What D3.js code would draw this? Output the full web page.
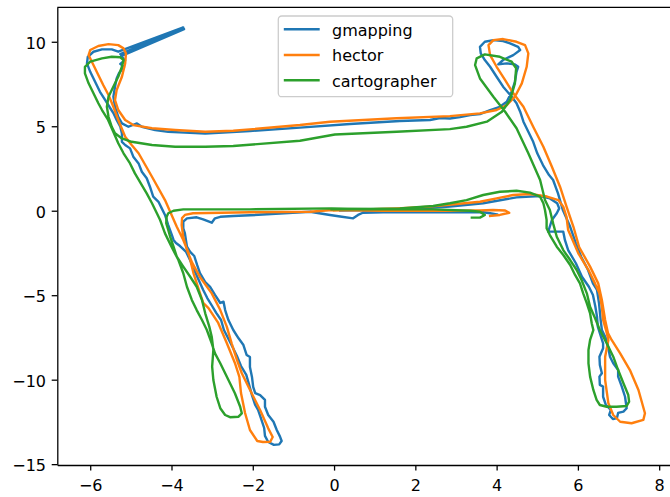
<!DOCTYPE html>
<html><head><meta charset="utf-8">
<script src="https://cdn.jsdelivr.net/npm/d3@7"></script>
<style>body{margin:0;background:#fff}svg{display:block;background:#fff}</style>
</head><body><svg id="c" width="670" height="497"></svg>
<script>
const seriesNames = ["gmapping", "hector", "cartographer"];
const seriesColors = ["#1f77b4", "#ff7f0e", "#2ca02c"];
const xTicks = [-6, -4, -2, 0, 2, 4, 6, 8];
const yTicks = [-15, -10, -5, 0, 5, 10];

const gmappingX = [4.01,3.84,3.67,1.21,0.71,0.59,0.47,0.15,-0.10,-0.59,-2.07,-2.48,-2.80,-2.93,-3.01,-3.22,-3.38,-3.62,-3.71,-3.71,-3.67,-3.62,-3.54,-3.44,-3.37,-3.30,-3.17,-3.05,-2.93,-2.80,-2.72,-2.68,-2.60,-2.48,-2.35,-2.23,-2.15,-2.07,-2.07,-2.02,-1.99,-1.94,-1.82,-1.70,-1.70,-1.62,-1.49,-1.41,-1.33,-1.29,-1.35,-1.48,-1.62,-1.70,-1.72,-1.80,-1.87,-1.94,-2.02,-2.09,-2.16,-2.29,-2.39,-2.51,-2.61,-2.71,-2.78,-2.90,-3.00,-3.12,-3.22,-3.32,-3.42,-3.52,-3.64,-3.79,-3.89,-3.95,-3.99,-4.08,-4.16,-4.24,-4.32,-4.45,-4.53,-4.61,-4.73,-4.81,-4.94,-5.02,-5.14,-5.22,-5.22,-5.26,-5.35,-5.43,-5.51,-5.63,-5.76,-5.88,-6.00,-6.08,-6.06,-5.92,-5.71,-5.47,-5.31,-3.71,-5.26,-3.69,-5.24,-5.14,-5.26,-5.17,-5.29,-5.35,-5.39,-5.43,-5.39,-5.31,-5.22,-5.06,-4.85,-4.73,-4.40,-4.08,-3.67,-3.17,-2.07,-0.84,0.39,1.62,2.36,2.61,2.85,3.10,3.35,3.59,3.84,4.08,4.25,4.37,4.45,4.49,4.53,4.45,4.25,4.04,4.16,4.41,4.58,4.53,4.33,4.16,3.92,3.71,3.59,3.61,3.71,3.84,4.00,4.16,4.37,4.49,4.58,4.66,4.78,4.90,5.00,5.14,5.29,5.39,5.51,5.63,5.81,5.95,6.08,6.25,6.37,6.47,6.52,6.56,6.59,6.71,6.79,6.87,6.99,6.99,7.08,7.16,7.20,7.12,6.99,6.96,6.86,6.77,6.81,6.69,6.62,6.62,6.54,6.53,6.59,6.54,6.53,6.62,6.62,6.54,6.49,6.47,6.43,6.37,6.27,6.10,5.95,5.76,5.68,5.64,5.27,5.36,5.48,5.54,5.49,5.31,5.07,4.49,3.67,2.85,2.12,1.21,0.15];
const gmappingY = [-0.22,-0.15,-0.09,-0.09,-0.12,-0.25,-0.45,-0.34,-0.25,-0.06,-0.27,-0.31,-0.36,-0.45,-0.71,-0.51,-0.39,-0.45,-0.65,-1.04,-1.34,-2.13,-2.44,-2.68,-3.21,-3.69,-4.22,-4.51,-4.98,-5.46,-5.38,-5.88,-6.47,-7.06,-7.55,-7.95,-8.54,-8.66,-9.25,-9.84,-10.43,-10.80,-10.91,-11.20,-11.60,-12.09,-12.49,-12.98,-13.37,-13.63,-13.83,-13.86,-13.69,-13.33,-12.86,-12.27,-11.79,-11.50,-10.91,-10.31,-9.72,-9.19,-8.60,-8.01,-7.53,-7.06,-6.47,-6.05,-5.64,-5.17,-4.69,-4.16,-3.63,-3.04,-2.44,-2.09,-1.91,-1.73,-1.44,-0.85,-0.25,0.14,0.53,0.83,1.42,1.92,2.31,2.80,3.20,3.69,3.89,4.08,4.58,4.97,5.37,5.78,6.08,6.55,7.04,7.63,8.22,8.72,9.11,9.41,9.55,9.55,9.41,10.85,9.27,10.75,9.15,8.92,8.69,8.51,8.15,7.83,7.34,6.75,6.15,5.56,5.17,4.97,5.17,4.97,4.78,4.67,4.62,4.57,4.72,4.92,5.13,5.31,5.37,5.49,5.46,5.54,5.66,5.72,5.96,6.15,6.45,7.04,7.63,8.22,8.52,8.66,8.72,8.66,8.92,9.21,9.51,9.70,9.91,10.04,10.10,10.00,9.70,9.31,8.92,8.52,7.93,7.34,6.75,6.36,5.86,5.27,4.67,4.08,3.40,2.70,2.11,1.82,1.03,0.04,-0.95,-1.93,-2.72,-3.51,-4.30,-4.69,-5.48,-6.47,-7.06,-7.65,-8.64,-9.03,-9.43,-9.82,-10.41,-11.01,-11.69,-11.89,-11.97,-12.27,-12.33,-12.09,-11.79,-11.50,-11.01,-10.41,-10.31,-9.82,-9.62,-9.13,-8.64,-8.14,-7.85,-7.25,-6.86,-6.27,-5.68,-4.99,-4.50,-3.91,-3.11,-2.33,-1.73,-1.24,-1.24,-0.55,-0.15,0.14,0.44,0.73,0.87,0.79,0.44,0.25,0.13,0.04,0.01];

const hectorX = [3.84,4.08,4.31,4.21,3.91,3.59,2.85,1.21,-0.05,-0.59,-2.07,-3.47,-3.67,-3.74,-3.75,-3.71,-3.62,-3.49,-3.30,-3.01,-2.80,-2.64,-2.52,-2.39,-2.27,-2.07,-1.82,-1.62,-1.51,-1.57,-1.75,-1.89,-2.07,-2.19,-2.29,-2.33,-2.44,-2.64,-2.85,-3.09,-3.22,-3.30,-3.46,-3.58,-3.71,-3.87,-4.16,-4.48,-4.81,-4.98,-5.14,-5.31,-5.43,-5.55,-5.68,-5.84,-5.96,-6.04,-6.00,-5.80,-5.55,-5.31,-5.18,-5.12,-5.14,-5.22,-5.35,-5.39,-5.31,-5.14,-4.94,-4.48,-3.91,-3.17,-2.48,-0.84,-0.10,1.54,2.85,3.59,4.00,4.25,4.45,4.62,4.74,4.78,4.70,4.49,4.16,3.92,3.80,3.84,4.00,4.21,4.41,4.66,4.90,5.15,5.36,5.56,5.72,5.89,6.03,6.30,6.50,6.59,6.67,6.74,6.83,7.04,7.28,7.49,7.65,7.61,7.32,7.04,6.87,6.75,6.67,6.67,6.75,6.69,6.62,6.59,6.53,6.42,6.26,6.01,5.85,5.76,5.72,5.64,5.52,5.24,4.82,4.41,4.00,3.59,3.02,2.36,1.54,0.39,0.00];
const hectorY = [-0.31,-0.25,-0.12,0.01,0.04,0.02,0.00,0.00,0.04,-0.06,-0.09,-0.15,-0.25,-0.43,-0.85,-1.56,-2.33,-3.09,-3.92,-4.89,-5.88,-6.86,-7.85,-8.83,-9.62,-10.60,-11.79,-12.88,-13.39,-13.67,-13.69,-13.63,-12.98,-11.97,-10.79,-9.84,-9.01,-7.83,-6.64,-5.76,-5.46,-4.87,-3.69,-2.50,-1.73,-0.95,0.63,2.01,3.40,3.89,4.38,5.37,6.15,6.85,7.44,8.22,8.82,9.21,9.51,9.75,9.86,9.80,9.61,9.31,8.72,7.93,7.14,6.55,5.96,5.37,5.07,4.88,4.78,4.67,4.73,5.07,5.27,5.47,5.60,5.76,5.96,6.25,6.75,7.54,8.52,9.31,9.80,10.00,10.16,10.10,9.80,9.21,8.52,7.73,6.95,6.15,4.97,3.79,2.60,1.42,0.24,-0.95,-2.15,-3.31,-4.30,-5.28,-6.47,-7.24,-7.65,-8.44,-9.43,-10.61,-11.99,-12.38,-12.58,-12.49,-12.09,-11.40,-10.02,-8.64,-7.65,-7.05,-6.47,-5.68,-4.89,-4.30,-3.51,-2.52,-1.63,-1.14,-0.36,0.24,0.63,0.84,0.99,0.93,0.73,0.53,0.40,0.24,0.14,0.04,0.01];

const cartographerX = [3.39,3.59,3.71,3.59,3.35,2.44,1.21,-0.06,-2.07,-3.71,-3.95,-4.08,-4.12,-4.13,-4.08,-4.03,-3.95,-3.87,-3.71,-3.54,-3.38,-3.25,-3.17,-3.07,-3.01,-2.97,-3.00,-2.97,-2.89,-2.80,-2.68,-2.56,-2.35,-2.27,-2.31,-2.44,-2.56,-2.68,-2.80,-2.93,-3.01,-3.13,-3.25,-3.38,-3.50,-3.62,-3.71,-3.83,-4.00,-4.16,-4.28,-4.36,-4.48,-4.61,-4.73,-4.90,-5.02,-5.18,-5.31,-5.43,-5.56,-5.71,-5.80,-5.92,-6.04,-6.13,-6.13,-6.00,-5.71,-5.47,-5.26,-5.18,-5.22,-5.31,-5.39,-5.47,-5.55,-5.59,-5.55,-5.47,-5.39,-5.22,-4.98,-4.48,-3.91,-3.17,-2.48,-0.84,0.02,1.54,2.85,3.26,3.76,4.13,4.33,4.45,4.48,4.37,4.08,3.71,3.51,3.47,3.59,3.92,4.21,4.49,4.78,5.07,5.19,5.31,5.39,5.48,5.64,5.81,5.97,6.09,6.22,6.30,6.42,6.54,6.71,6.87,6.99,7.12,7.24,7.26,7.20,6.95,6.71,6.54,6.46,6.38,6.30,6.26,6.26,6.30,6.38,6.34,6.30,6.22,6.13,6.05,5.93,5.81,5.64,5.48,5.31,5.23,5.23,5.19,5.15,5.07,4.82,4.49,4.08,3.67,3.26,2.85,2.44,1.62,-0.06];
const cartographerY = [-0.41,-0.41,-0.25,-0.06,0.00,0.08,0.08,0.14,0.08,0.08,0.00,-0.15,-0.36,-0.73,-1.14,-1.56,-2.13,-2.72,-3.31,-3.91,-4.50,-5.28,-6.07,-6.86,-7.46,-8.24,-9.23,-10.02,-11.01,-11.69,-12.09,-12.22,-12.19,-11.99,-11.60,-10.80,-10.21,-9.62,-9.03,-8.44,-7.85,-7.06,-6.47,-5.88,-5.28,-4.50,-3.70,-2.92,-2.13,-1.34,-0.55,-0.15,0.44,1.03,1.52,2.21,2.80,3.40,3.99,4.66,5.37,5.96,6.36,6.95,7.54,8.13,8.52,8.82,9.02,9.11,9.08,8.92,8.52,7.93,7.54,7.14,6.75,6.15,5.56,4.97,4.58,4.28,4.08,3.89,3.79,3.79,3.83,4.14,4.51,4.67,4.83,4.97,5.27,5.86,6.55,7.54,8.43,8.82,9.11,9.25,9.02,8.62,7.83,6.75,5.86,4.88,3.40,1.82,0.63,0.04,-0.75,-1.54,-2.33,-2.92,-3.51,-4.10,-4.89,-5.68,-6.35,-7.06,-7.85,-8.64,-9.43,-10.21,-10.91,-11.30,-11.56,-11.60,-11.60,-11.50,-11.20,-10.61,-9.82,-9.03,-8.24,-7.65,-7.06,-6.66,-6.07,-5.48,-4.89,-4.30,-3.80,-3.21,-2.62,-2.13,-1.44,-1.04,-0.55,0.04,0.44,0.83,1.07,1.18,1.12,0.93,0.63,0.44,0.28,0.14,0.08];

const seriesX = [gmappingX, hectorX, cartographerX];
const seriesY = [gmappingY, hectorY, cartographerY];

const FONT = "'DejaVu Sans', sans-serif";
const svg = d3.select("#c");
const x = d3.scaleLinear().domain([-6.81, 8.34]).range([57.3, 673]);
const y = d3.scaleLinear().domain([-15.05, 12.04]).range([465, 7.3]);

const line = d3.line().x(d => x(d[0])).y(d => y(d[1]));
const plot = svg.append("g");
seriesNames.forEach((name, i) => {
  const pts = seriesX[i].map((v, k) => [v, seriesY[i][k]]);
  plot.append("path").datum(pts)
    .attr("d", line)
    .attr("fill", "none")
    .attr("stroke", seriesColors[i])
    .attr("stroke-width", 2.4)
    .attr("stroke-linejoin", "round")
    .attr("stroke-linecap", "square");
});

// axes
const gx = svg.append("g").attr("transform", `translate(0,${y.range()[0]})`)
  .call(d3.axisBottom(x).tickValues(xTicks).tickSize(5.6).tickSizeOuter(0).tickPadding(9));
const gy = svg.append("g").attr("transform", `translate(${x.range()[0]},0)`)
  .call(d3.axisLeft(y).tickValues(yTicks).tickSize(5.6).tickSizeOuter(0).tickPadding(5.7));
[gx, gy].forEach(g => {
  g.attr("font-family", FONT).attr("font-size", 16);
  g.selectAll("text").attr("fill", "#000");
  g.selectAll("line").attr("stroke", "#000").attr("stroke-width", 1.28);
  g.select(".domain").attr("stroke", "#000").attr("stroke-width", 1.28);
});
gy.selectAll("text").attr("dy", "0.4em");
// top spine
svg.append("line").attr("x1", x.range()[0]).attr("x2", x.range()[1])
  .attr("y1", y.range()[1]).attr("y2", y.range()[1])
  .attr("stroke", "#000").attr("stroke-width", 1.28);

// legend
const lg = svg.append("g");
lg.append("rect").attr("x", 278.3).attr("y", 16).attr("width", 174.4).attr("height", 80.7)
  .attr("rx", 3.5).attr("fill", "#fff").attr("fill-opacity", 0.8)
  .attr("stroke", "#cccccc").attr("stroke-width", 1.28);
const rowY = [29.3, 55, 80.3];
seriesNames.forEach((name, i) => {
  lg.append("line").attr("x1", 285).attr("x2", 318.5).attr("y1", rowY[i]).attr("y2", rowY[i])
    .attr("stroke", seriesColors[i]).attr("stroke-width", 2.4).attr("stroke-linecap", "square");
  lg.append("text").attr("x", 332).attr("y", rowY[i] + 6.3)
    .attr("font-family", FONT).attr("font-size", 16).attr("fill", "#000").text(name);
});
</script></body></html>
